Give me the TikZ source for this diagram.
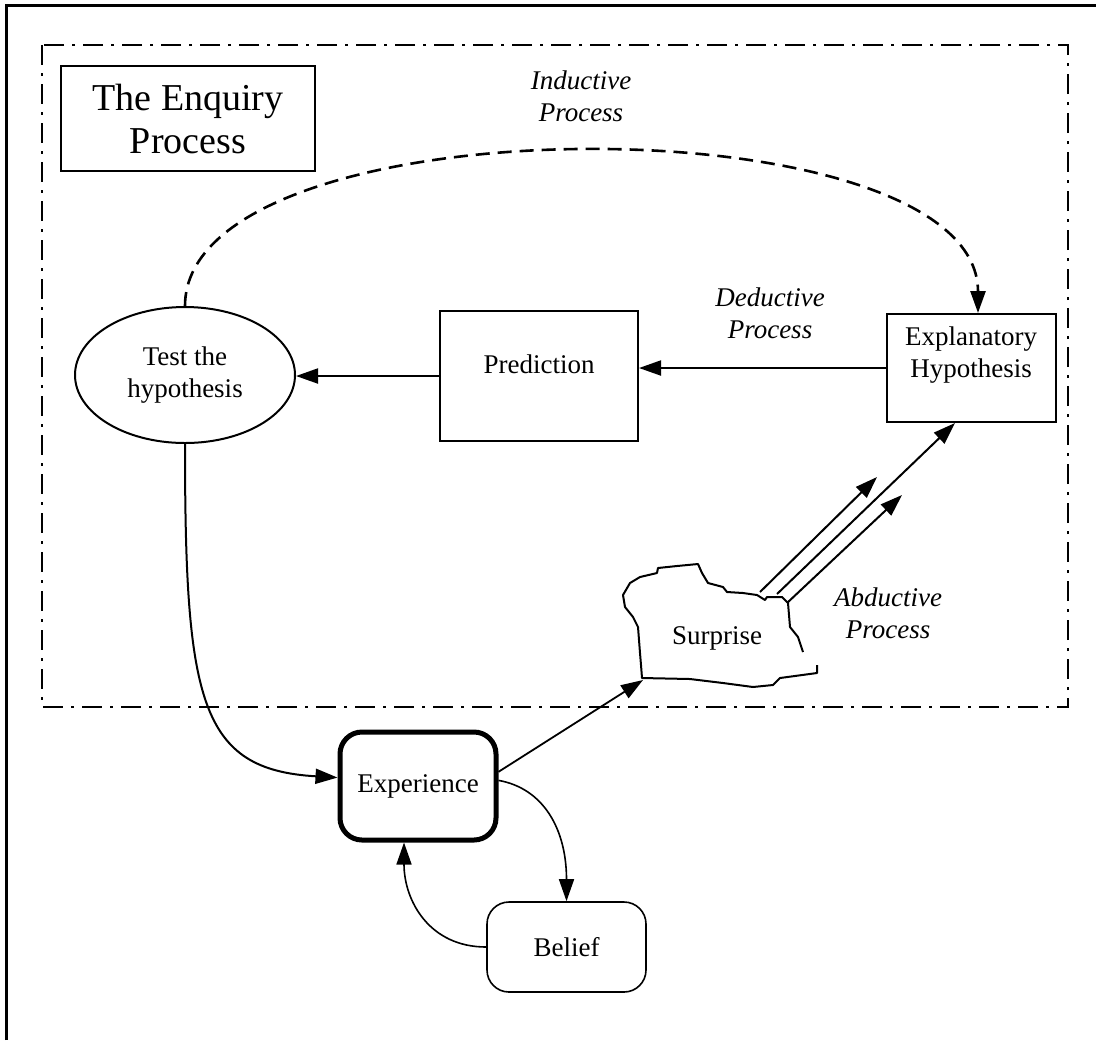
\documentclass[tikz,border=0pt]{standalone}
\usepackage{fontspec}
\setmainfont{Liberation Serif}
\usetikzlibrary{arrows.meta,shapes.geometric}
\begin{document}
\begin{tikzpicture}[x=0.5pt,y=-0.5pt,
  every node/.style={font=\fontsize{13.5}{16}\selectfont, align=center, inner sep=0pt},
  box/.style={draw, line width=1pt},
  rbox/.style={draw, rounded corners=11pt},
  arr/.style={-{Triangle[length=11pt,width=7.5pt]}, line width=1pt},
  lbl/.style={font=\itshape\fontsize{13.5}{16}\selectfont},
  dashdotframe/.style={line width=1.2pt, dash pattern=on 10pt off 4pt on 1.5pt off 4pt}
]
\useasboundingbox (0,0) rectangle (1096,1040);

% page frame (top and left edges)
\draw[line width=1.5pt] (6,1040) -- (6,5) -- (1096,5);

% enquiry region
\draw[dashdotframe] (42,45) rectangle (1068,707);

% title
\node[box, minimum width=127pt, minimum height=52.5pt,
      font=\fontsize{19}{21.5}\selectfont] (title) at (188,118.5) {The Enquiry\\Process};

% main nodes
\node[draw, ellipse, line width=1pt, minimum width=110pt, minimum height=68pt]
  (test) at (185,375) {Test the\\hypothesis};
\node[box, minimum width=99pt, minimum height=65pt] (pred) at (539,376) {Prediction\\[-4pt]\mbox{}};
\node[box, minimum width=84.5pt, minimum height=54pt] (expl) at (971,368) {Explanatory\\Hypothesis\\\mbox{}};
\node[rbox, line width=2.5pt, minimum width=78pt, minimum height=54pt] (exp) at (418,786) {Experience};
\node[rbox, line width=0.8pt, minimum width=79.5pt, minimum height=45pt] (belief) at (566.5,947) {Belief};

% surprise outline
\draw[line width=1pt, line join=round]
  (817,665) -- (817,673) -- (780,678) -- (773,685) -- (753,687) -- (723,683) -- (690,679) -- (642,678)
  -- (641,665) -- (640,653) -- (638,627) -- (633,617) -- (625,607) -- (623,595) -- (630,583) -- (640,577)
  -- (657,573) -- (658,568) -- (677,566) -- (698,564) -- (702,573) -- (708,583) -- (723,587) -- (727,592)
  -- (743,593) -- (757,595) -- (765,600) -- (767,597) -- (782,597) -- (788,603) -- (790,627) -- (798,637)
  -- (803,652);
\node (surprise) at (717,638) {Surprise};
\coordinate (sbl) at (643,680);

% process labels
\node[lbl] (ind) at (581,96) {Inductive\\Process};
\node[lbl] (ded) at (770,313) {Deductive\\Process};
\node[lbl] (abd) at (888,613) {Abductive\\Process};

% inductive process
\draw[arr, line width=1.3pt, dash pattern=on 7pt off 4pt]
  (test.north) .. controls +(0,-207) and +(0,-214) .. ([xshift=3.5pt]expl.north);

% deductive chain
\draw[arr] (expl.west) -- (expl.west -| pred.east);
\draw[arr] (pred.west) -- (pred.west -| test.east);

% abductive process
\coordinate (a1s) at (760,592);
\coordinate (a1e) at (877,477);
\coordinate (a2s) at (777,594);
\coordinate (a3s) at (787,603);
\coordinate (a3e) at (902,495);
\draw[arr] (a1s) -- (a1e);
\draw[arr] (a2s) -- ([xshift=-8pt]expl.south);
\draw[arr] (a3s) -- (a3e);

% experience links
\draw[arr] (test.south) .. controls +(0,257) and +(-138,-8) .. (exp.174);
\draw[arr, line width=0.9pt] (exp.10) -- (sbl);
\draw[arr, line width=0.8pt] (exp.4) .. controls +(45,8) and +(0,-72) .. (belief.north);
\draw[arr, line width=0.8pt] (belief.west) .. controls +(-57,0) and +(0,58) .. ([xshift=-7pt]exp.south);
\end{tikzpicture}
\end{document}
